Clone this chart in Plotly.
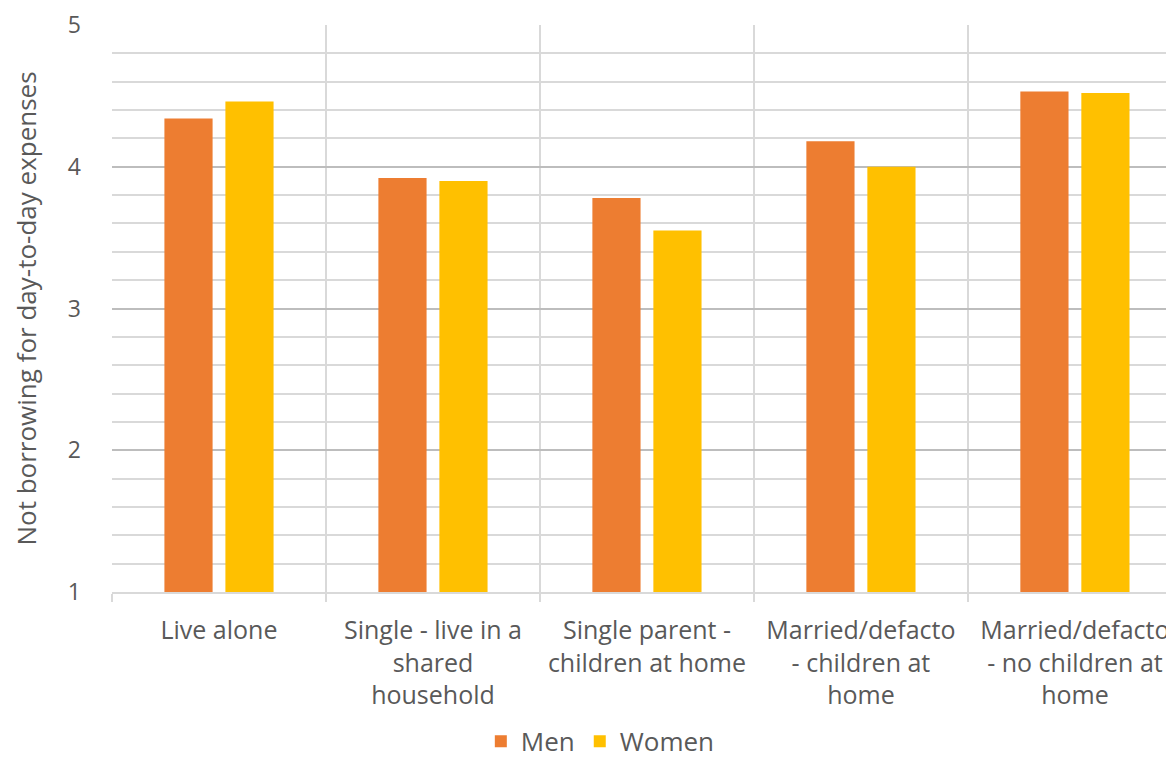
import plotly.graph_objects as go

categories = [
    "Live alone",
    "Single - live in a<br>shared<br>household",
    "Single parent -<br>children at home",
    "Married/defacto<br>- children at<br>home",
    "Married/defacto<br>- no children at<br>home",
]
men = [4.34, 3.92, 3.78, 4.18, 4.53]
women = [4.46, 3.90, 3.55, 4.00, 4.52]

FONT = "Open Sans"
GRAY = "#595959"

fig = go.Figure()
fig.add_bar(x=categories, y=men, name="Men", marker=dict(color="#ED7D31", line=dict(width=0)))
fig.add_bar(x=categories, y=women, name="Women", marker=dict(color="#FFC000", line=dict(width=0)))

# page body has an 8px margin, so the figure is shifted by 8px
fig.update_layout(
    width=1166, height=756,
    margin=dict(l=104, r=0, t=17, b=172, autoexpand=False),
    paper_bgcolor="white", plot_bgcolor="white",
    barmode="group", bargap=0.43, bargroupgap=0.21,
    font=dict(family=FONT, color=GRAY, size=20),
    showlegend=True,
    legend=dict(orientation="h", xref="container", x=0.508, xanchor="center",
                yref="container", y=0.03, yanchor="middle",
                font=dict(size=26, color=GRAY), itemwidth=30,
                traceorder="normal"),
)
fig.update_xaxes(
    range=[-0.5, 4.463],
    tickson="boundaries", showgrid=True, gridcolor="#d9d9d9", gridwidth=2,
    ticks="outside", ticklen=8, tickcolor="#d9d9d9", tickwidth=2,
    showline=True, linecolor="#d9d9d9", linewidth=2,
    tickfont=dict(size=25, color=GRAY), ticklabelstandoff=15,
    tickangle=0,
)
fig.update_yaxes(
    range=[1, 5], dtick=1, tick0=1,
    showgrid=True, gridcolor="#bdbdbd", gridwidth=2,
    minor=dict(dtick=0.2, showgrid=True, gridcolor="#d9d9d9", gridwidth=2),
    zeroline=False, showline=False,
    tickfont=dict(size=23, color=GRAY), ticklabelstandoff=30,
    title=dict(text="Not borrowing for day-to-day expenses", font=dict(size=26, color=GRAY), standoff=28),
)

fig.write_html("out.html")
